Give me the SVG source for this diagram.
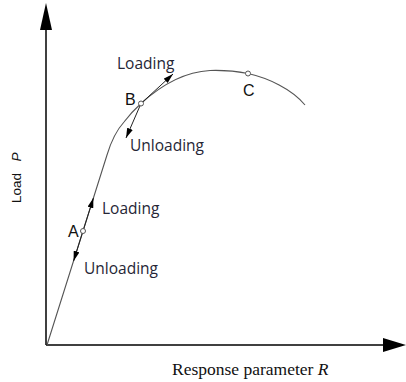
<svg xmlns="http://www.w3.org/2000/svg" width="406" height="382" viewBox="0 0 406 382">
  <style>
    .axis { stroke: #000; stroke-width: 1.5; fill: none; }
    .head { fill: #000; stroke: none; }
    .curve { stroke: #555; stroke-width: 1.1; fill: none; }
    .pt { stroke: #555; stroke-width: 1; fill: #fff; }
    .dir { stroke: #222; stroke-width: 1; fill: none; marker-end: url(#ah); }
    .lbl { font-family: "Open Sans", "Noto Sans", sans-serif; font-size: 15.5px; fill: #262636; }
    .pl { font-family: "Liberation Sans", Arial, sans-serif; font-size: 16px; fill: #111; }
    .ax { font-family: "Liberation Serif", "Times New Roman", serif; font-size: 17.5px; fill: #111; }
    .ay { font-family: "Liberation Sans", Arial, sans-serif; font-size: 13.5px; fill: #111; }
  </style>
  <defs>
    <marker id="ah" markerUnits="userSpaceOnUse" markerWidth="10" markerHeight="6" refX="10" refY="3" orient="auto">
      <path d="M0,0 L10,3 L0,6 z" fill="#000"/>
    </marker>
  </defs>
  <rect width="406" height="382" fill="#fff"/>

  <g id="axes">
    <line class="axis" x1="46" y1="345" x2="46" y2="28"/>
    <path class="head" d="M46,3 L40,30 L52,30 z"/>
    <line class="axis" x1="46" y1="345" x2="386" y2="345"/>
    <path class="head" d="M406,345 L383,338 L383,352 z"/>
  </g>

  <g id="curve">
    <path class="curve" d="M47,345 L107,155 C110,145 114,133 124,122 C131,113 136,108 141,103.5 C158,88 182,72 210,70.5 C226,70 238,71.5 248,73.5 C268,78 292,89 305,105"/>
  </g>

  <g id="connectors">
    <line class="dir" x1="83" y1="231" x2="93.4" y2="198"/>
    <line class="dir" x1="83" y1="231" x2="73.6" y2="261"/>
    <line class="dir" x1="141" y1="103.5" x2="173" y2="74"/>
    <line class="dir" x1="141" y1="103.5" x2="126" y2="138"/>
  </g>

  <g id="pointA">
    <circle class="pt" cx="83" cy="231" r="2.5"/>
    <text class="pl" x="68" y="237">A</text>
  </g>
  <g id="pointB">
    <circle class="pt" cx="141" cy="103.5" r="2.5"/>
    <text class="pl" x="125" y="105">B</text>
  </g>
  <g id="pointC">
    <circle class="pt" cx="248" cy="73.5" r="2.5"/>
    <text class="pl" x="243" y="95.5">C</text>
  </g>

  <g id="labels">
    <text class="lbl" x="117" y="69">Loading</text>
    <text class="lbl" x="130" y="151">Unloading</text>
    <text class="lbl" x="102" y="213.5">Loading</text>
    <text class="lbl" x="84" y="274">Unloading</text>
    <text class="ax" x="172" y="375">Response parameter <tspan font-style="italic">R</tspan></text>
    <g transform="translate(20.5,203) rotate(-90)">
      <text class="ay" x="0" y="0">Load</text>
      <text class="ay" x="41.5" y="0" font-style="italic">P</text>
    </g>
  </g>
</svg>
